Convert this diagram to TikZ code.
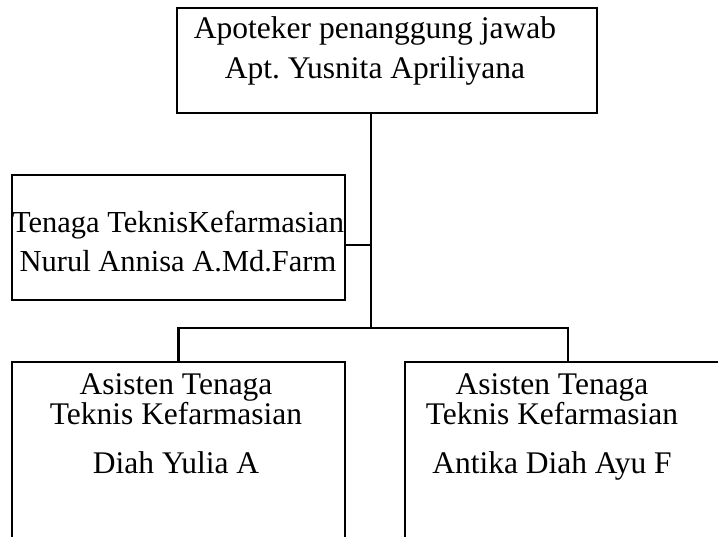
\documentclass[tikz,border=0pt]{standalone}
\usepackage{fontspec}
\setmainfont{Liberation Serif}
\usetikzlibrary{calc,positioning}

\tikzset{
    box/.style={draw=black, line width=2.8pt, minimum width=333pt},
    link/.style={draw=black, line width=2.1pt},
    lbl/.style={align=center, inner sep=0pt}
}

\begin{document}
\frenchspacing
\begin{tikzpicture}[x=1pt, y=-1pt]
    \useasboundingbox (0,0) rectangle (718,537);

    \node[box, minimum width=420pt, minimum height=105pt] (apt) at (387,60.5) {};
    \node[box, minimum height=125pt] (ttk) at (178.5,237.5) {};
    \node[box, minimum height=200pt] (attkA) at (178.5,462) {};
    \node[box, minimum width=326pt, minimum height=200pt] (attkB) at (568,462) {};

    \node[lbl, font=\fontsize{31.5}{40}\selectfont] (aptTxt) at (375,51)
        {Apoteker penanggung jawab\\Apt. Yusnita Apriliyana};
    \node[lbl, font=\fontsize{30.5}{39}\selectfont] (ttkTxt) at (178,241)
        {Tenaga TeknisKefarmasian\\Nurul Annisa A.Md.Farm};
    \node[lbl, anchor=north, font=\fontsize{31.5}{30}\selectfont] (attkATxt) at (176,373)
        {Asisten Tenaga\\Teknis Kefarmasian\\[19pt]Diah Yulia A};
    \node[lbl, anchor=north, font=\fontsize{31.5}{30}\selectfont] (attkBTxt) at (552,373)
        {Asisten Tenaga\\Teknis Kefarmasian\\[19pt]Antika Diah Ayu F};

    \coordinate (tap) at (371,245);
    \coordinate (bar) at (371,328);

    \draw[link] (apt.south -| bar) -- (bar);
    \draw[link] (ttk.east |- tap) -- (tap);
    \draw[link] (attkA.north) -- (attkA.north |- bar) -- (attkB.north |- bar) -- (attkB.north);
\end{tikzpicture}
\end{document}
